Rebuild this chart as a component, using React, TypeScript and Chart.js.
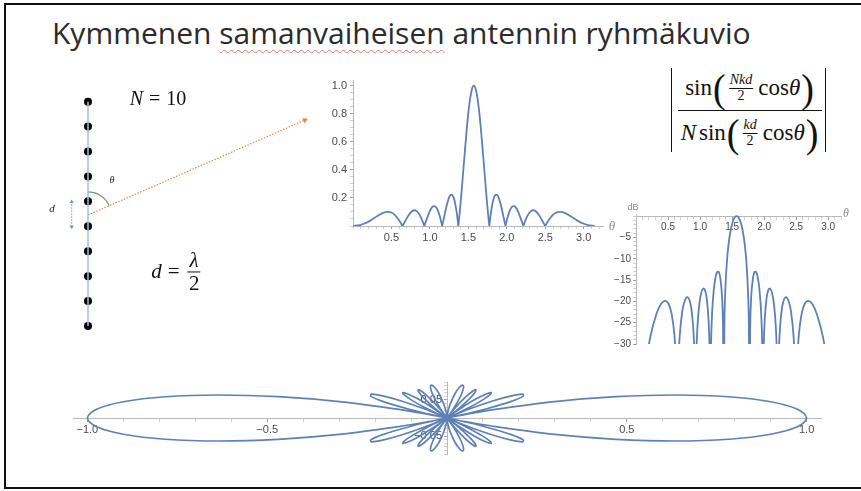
import React, { useEffect, useRef } from 'react';
import { Chart, registerables } from 'chart.js';

Chart.register(...registerables);

// ---------------- data ----------------
// θ (rad) sample positions along the pattern axis
const THETA = [
  0, 0.0895, 0.1415, 0.2241, 0.3176, 0.3898, 0.451, 0.5054, 0.5548, 0.6006, 0.6266, 0.6435, 0.66, 0.684, 0.7227,
  0.7598, 0.7954, 0.8298, 0.8632, 0.8957, 0.9148, 0.9273, 0.9397, 0.9582, 0.9884, 1.0181, 1.0472, 1.0758, 1.104,
  1.1318, 1.1484, 1.1593, 1.1702, 1.1864, 1.2132, 1.2398, 1.2661, 1.2922, 1.3181, 1.3439, 1.3592, 1.3694, 1.3797,
  1.3949, 1.4202, 1.4455, 1.4706, 1.4957, 1.5208, 1.5458, 1.5708,
  1.5958, 1.6208, 1.6459, 1.671, 1.6961, 1.7214, 1.7467, 1.7619, 1.7722, 1.7824, 1.7977, 1.8235, 1.8494, 1.8755,
  1.9018, 1.9284, 1.9552, 1.9714, 1.9823, 1.9932, 2.0098, 2.0376, 2.0658, 2.0944, 2.1235, 2.1532, 2.1834, 2.2019,
  2.2143, 2.2268, 2.2459, 2.2784, 2.3118, 2.3462, 2.3818, 2.4189, 2.4576, 2.4816, 2.4981, 2.515, 2.541, 2.5868,
  2.6362, 2.6906, 2.7518, 2.824, 2.9175, 3.0001, 3.0521, 3.1416,
];
// |array factor| at each θ
const ARRAY_FACTOR = [
  0, 0.0063, 0.0157, 0.0383, 0.0709, 0.093, 0.1013, 0.0942, 0.0727, 0.0398, 0.0164, 0, 0.0165, 0.0408, 0.0765,
  0.1017, 0.1122, 0.1059, 0.0829, 0.046, 0.0191, 0, 0.0196, 0.0487, 0.093, 0.1258, 0.1414, 0.1361, 0.1089, 0.0618,
  0.0261, 0, 0.0272, 0.0689, 0.1353, 0.1891, 0.2203, 0.2207, 0.1848, 0.1106, 0.0483, 0, 0.0532, 0.141, 0.3029,
  0.4736, 0.6393, 0.786, 0.9012, 0.9747, 1,
  0.9747, 0.9012, 0.786, 0.6393, 0.4736, 0.3029, 0.141, 0.0532, 0, 0.0483, 0.1106, 0.1848, 0.2207, 0.2203, 0.1891,
  0.1353, 0.0689, 0.0272, 0, 0.0261, 0.0618, 0.1089, 0.1361, 0.1414, 0.1258, 0.093, 0.0487, 0.0196, 0, 0.0191,
  0.046, 0.0829, 0.1059, 0.1122, 0.1017, 0.0765, 0.0408, 0.0165, 0, 0.0164, 0.0398, 0.0727, 0.0942, 0.1013, 0.093,
  0.0709, 0.0383, 0.0157, 0.0063, 0,
];
// same pattern in dB (values below the −30 dB floor fall outside the plot)
const ARRAY_FACTOR_DB = [
  -60, -44.0, -36.1, -28.3, -23.0, -20.6, -19.9, -20.5, -22.8, -28.0, -35.7, -60, -35.6, -27.8, -22.3, -19.9, -19.0,
  -19.5, -21.6, -26.7, -34.4, -60, -34.2, -26.2, -20.6, -18.0, -17.0, -17.3, -19.3, -24.2, -31.7, -60, -31.3, -23.2,
  -17.4, -14.5, -13.1, -13.1, -14.7, -19.1, -26.3, -60, -25.5, -17.0, -10.4, -6.5, -3.9, -2.1, -0.9, -0.2, 0,
  -0.2, -0.9, -2.1, -3.9, -6.5, -10.4, -17.0, -25.5, -60, -26.3, -19.1, -14.7, -13.1, -13.1, -14.5, -17.4, -23.2,
  -31.3, -60, -31.7, -24.2, -19.3, -17.3, -17.0, -18.0, -20.6, -26.2, -34.2, -60, -34.4, -26.7, -21.6, -19.5, -19.0,
  -19.9, -22.3, -27.8, -35.6, -60, -35.7, -28.0, -22.8, -20.5, -19.9, -20.6, -23.0, -28.3, -36.1, -44.0, -60,
];

const LIN_X_LABELS = [0.5, 1.0, 1.5, 2.0, 2.5, 3.0];
const LIN_Y_LABELS = [0.2, 0.4, 0.6, 0.8, 1.0];
const DB_X_LABELS = [0.5, 1.0, 1.5, 2.0, 2.5, 3.0];
const DB_Y_LABELS = [-5, -10, -15, -20, -25, -30];
const POLAR_X_LABELS = [-1.0, -0.5, 0.5, 1.0];
const POLAR_Y_LABELS = [-0.05, 0.05];

// antenna sketch, in units of the element spacing d
const ELEMENT_Y = [0, 1, 2, 3, 4, 5, 6, 7, 8, 9];
const ARRAY_AXIS_Y = [0, 9];
const RAY_X = [0, 8.7];
const RAY_Y = [4.45, 8.26];
const SPACING_MARK_X = [-0.654, -0.654];
const SPACING_MARK_Y = [3.98, 4.98];
const ANGLE_ARC_X = [0, 0.2407, 0.465, 0.6576, 0.8054, 0.8496];
const ANGLE_ARC_Y = [5.38, 5.348, 5.2554, 5.1076, 4.915, 4.8283];

// ---------------- styling helpers ----------------
const MMA_BLUE = '#5e81b5';
const AXIS_GREY = '#b8b8b8';
const LABEL_GREY = '#4a4a4a';
const SANS = '"Liberation Sans", Arial, sans-serif';
const SERIF = '"Liberation Serif", "Times New Roman", serif';

const steps = (a: number, b: number, s: number) => {
  const out: number[] = [];
  const n = Math.round((b - a) / s);
  for (let i = 0; i <= n; i++) out.push(+(a + i * s).toFixed(6));
  return out;
};
const minorTicks = (min: number, max: number, step: number) =>
  steps(Math.ceil(min / step - 1e-9) * step, Math.floor(max / step + 1e-9) * step, step);
const isIn = (list: number[], v: number) => list.some((t) => Math.abs(t - v) < 1e-6);
const fmt = (v: number, d: number) => (v < 0 ? '\u2212' : '') + Math.abs(v).toFixed(d);

function mmaAxis(o: any) {
  return {
    type: 'linear',
    position: o.position,
    min: o.min,
    max: o.max,
    afterBuildTicks: (s: any) => {
      s.ticks = minorTicks(o.min, o.max, o.step).map((value) => ({ value }));
    },
    afterFit: (s: any) => {
      if (o.size == null) return;
      if (s.isHorizontal()) s.height = o.size;
      else s.width = o.size;
    },
    ticks: {
      autoSkip: false,
      maxRotation: 0,
      minRotation: 0,
      padding: o.padding ?? 3,
      color: LABEL_GREY,
      font: { family: SANS, size: o.fontSize ?? 11 },
      callback: (v: number) => (isIn(o.majors, v) ? fmt(v, o.digits) : ''),
    },
    grid: {
      drawOnChartArea: false,
      drawTicks: true,
      tickLength: 3,
      tickWidth: 1,
      tickColor: (ctx: any) => (ctx.tick && isIn(o.majors, ctx.tick.value) ? '#9c9c9c' : '#d0d0d0'),
    },
    border: { display: true, color: AXIS_GREY, width: 1 },
  };
}

function traced(xs: number[], ys: number[], amp: number[]) {
  const pts: { x: number; y: number }[] = [];
  xs.forEach((x, i) => {
    pts.push({ x, y: ys[i] });
    if (amp[i] === 0) pts.push({ x, y: ys[i] }); // doubled point keeps the null a sharp cusp
  });
  return pts;
}

const baseOptions = {
  responsive: false,
  animation: false,
  devicePixelRatio: 1,
  events: [],
  plugins: { legend: { display: false }, tooltip: { enabled: false }, title: { display: false } },
};

const patternLine = (data: any[]) => ({
  data,
  showLine: true,
  borderColor: MMA_BLUE,
  borderWidth: 1.8,
  pointRadius: 0,
  tension: 0.35,
  fill: false,
});

function linearConfig() {
  return {
    type: 'scatter',
    data: { datasets: [patternLine(traced(THETA, ARRAY_FACTOR, ARRAY_FACTOR))] },
    options: {
      ...baseOptions,
      layout: { autoPadding: false, padding: { left: 5, right: 10, top: 10, bottom: 5 } },
      scales: {
        x: mmaAxis({ position: 'bottom', min: 0, max: 3.25, step: 0.1, majors: LIN_X_LABELS, digits: 1, size: 20, padding: 2 }),
        y: mmaAxis({ position: 'left', min: 0, max: 1.04, step: 0.05, majors: LIN_Y_LABELS, digits: 1, size: 30, padding: 3 }),
      },
    },
  };
}

function dbConfig() {
  return {
    type: 'scatter',
    data: { datasets: [patternLine(traced(THETA, ARRAY_FACTOR_DB, ARRAY_FACTOR))] },
    options: {
      ...baseOptions,
      layout: { autoPadding: false, padding: { left: 5, right: 10, top: 10, bottom: 10 } },
      scales: {
        x: mmaAxis({ position: { y: 0 }, min: 0, max: 3.2, step: 0.1, majors: DB_X_LABELS, digits: 1, fontSize: 10, padding: 2 }),
        y: mmaAxis({ position: 'left', min: -30, max: 0.5, step: 1, majors: DB_Y_LABELS, digits: 0, size: 30, fontSize: 10, padding: 2 }),
      },
    },
  };
}

function polarConfig() {
  const px = THETA.map((t, i) => ARRAY_FACTOR[i] * Math.sin(t));
  const py = THETA.map((t, i) => ARRAY_FACTOR[i] * Math.cos(t));
  // second half of the turn (θ from π to 2π) mirrors the first across the vertical axis
  const xs = px.concat(px.slice().reverse().map((v) => -v));
  const ys = py.concat(py.slice().reverse());
  const amp = ARRAY_FACTOR.concat(ARRAY_FACTOR.slice().reverse());
  return {
    type: 'scatter',
    data: { datasets: [{ ...patternLine(traced(xs, ys, amp)), borderWidth: 1.7 }] },
    options: {
      ...baseOptions,
      layout: { autoPadding: false, padding: 20 },
      scales: {
        x: mmaAxis({ position: 'center', min: -1.04, max: 1.04, step: 0.1, majors: POLAR_X_LABELS, digits: 1, padding: 2 }),
        y: mmaAxis({ position: 'center', min: -0.1, max: 0.1, step: 0.01, majors: POLAR_Y_LABELS, digits: 2, padding: 2 }),
      },
    },
  };
}

function sketchConfig() {
  const pts = (xs: number[], ys: number[]) => ys.map((y, i) => ({ x: xs[i], y }));
  return {
    type: 'scatter',
    data: {
      datasets: [
        {
          data: pts([0, 0], ARRAY_AXIS_Y),
          showLine: true,
          borderColor: '#9dc3e6',
          borderWidth: 1.5,
          pointRadius: 0,
        },
        {
          data: pts(RAY_X, RAY_Y),
          showLine: true,
          borderColor: '#ed7d31',
          borderWidth: 1.1,
          borderDash: [1.5, 1.5],
          pointStyle: 'triangle',
          pointRadius: [0, 3.2],
          pointRotation: [0, 66.4],
          pointBackgroundColor: '#ed7d31',
          pointBorderWidth: 0,
        },
        {
          data: pts(SPACING_MARK_X, SPACING_MARK_Y),
          showLine: true,
          borderColor: '#5b9bd5',
          borderWidth: 1,
          borderDash: [1.5, 1.5],
          pointStyle: 'triangle',
          pointRadius: [2.4, 2.4],
          pointRotation: [180, 0],
          pointBackgroundColor: '#5b9bd5',
          pointBorderWidth: 0,
        },
        {
          data: pts(ANGLE_ARC_X, ANGLE_ARC_Y),
          showLine: true,
          borderColor: '#6f9270',
          borderWidth: 1.2,
          tension: 0.4,
          pointRadius: 0,
        },
        {
          data: ELEMENT_Y.map((y) => ({ x: 0, y })),
          showLine: false,
          pointRadius: 4,
          pointBackgroundColor: '#000',
          pointBorderWidth: 0,
        },
      ],
    },
    options: {
      ...baseOptions,
      layout: { autoPadding: false, padding: 0 },
      scales: {
        x: { type: 'linear', display: false, min: -1.6045, max: 9.2258 },
        y: { type: 'linear', display: false, min: -0.5616, max: 9.4665 },
      },
    },
  };
}

function ChartBox({ left, top, width, height, make }: any) {
  const ref = useRef<HTMLCanvasElement>(null);
  useEffect(() => {
    const chart = new Chart(ref.current as HTMLCanvasElement, make());
    return () => chart.destroy();
  }, []);
  return (
    <canvas
      ref={ref}
      width={width}
      height={height}
      style={{ position: 'absolute', left, top, width, height }}
    />
  );
}

const At = ({ x, y, style, children }: any) => (
  <div
    style={{
      position: 'absolute',
      left: x,
      top: y,
      transform: 'translate(-50%, -50%)',
      whiteSpace: 'nowrap',
      lineHeight: 1,
      ...style,
    }}
  >
    {children}
  </div>
);

const Frac = ({ top, bottom, size, italicTop = true, barPad = 1 }: any) => (
  <span
    style={{
      display: 'inline-flex',
      flexDirection: 'column',
      alignItems: 'center',
      fontSize: size,
      lineHeight: 1.05,
      margin: '0 2px',
    }}
  >
    <span style={{ borderBottom: '1px solid #111', padding: `0 ${barPad}px`, fontStyle: italicTop ? 'italic' : 'normal' }}>
      {top}
    </span>
    <span>{bottom}</span>
  </span>
);

const Paren = ({ ch }: any) => (
  <span
    style={{
      display: 'inline-block',
      fontSize: 38,
      lineHeight: '38px',
      transform: 'scaleY(1.08)',
      fontWeight: 300,
      margin: '0 1px',
    }}
  >
    {ch}
  </span>
);

export default function App() {
  const mathRow = { font: `23px ${SERIF}`, color: '#111', display: 'flex', alignItems: 'center' };
  return (
    <div
      style={{
        position: 'fixed',
        left: 0,
        top: 0,
        width: 861,
        height: 491,
        background: '#fff',
        overflow: 'hidden',
      }}
    >
      <div
        style={{
          position: 'absolute',
          left: 4,
          top: 3,
          width: 880,
          height: 482,
          borderLeft: '2px solid #111',
          borderTop: '2px solid #111',
          borderBottom: '2px solid #111',
        }}
      />
      <div
        style={{
          position: 'absolute',
          left: 52,
          top: 13,
          font: '30px "Open Sans", sans-serif',
          lineHeight: '40px',
          color: '#2b2b2b',
          whiteSpace: 'nowrap',
        }}
      >
        Kymmenen{' '}
        <span
          style={{
            textDecorationLine: 'underline',
            textDecorationStyle: 'wavy',
            textDecorationColor: '#e8776f',
            textDecorationThickness: '1px',
            textUnderlineOffset: '5px',
          }}
        >
          samanvaiheisen
        </span>{' '}
        antennin ryhmäkuvio
      </div>

      <ChartBox left={48} top={90} width={270} height={250} make={sketchConfig} />
      <ChartBox left={318} top={70} width={295} height={181} make={linearConfig} />
      <ChartBox left={601} top={204} width={250} height={150} make={dbConfig} />
      <ChartBox left={53} top={362} width={788} height={112} make={polarConfig} />

      {/* sketch annotations */}
      <At x={158} y={98} style={{ font: `20px ${SERIF}`, color: '#111' }}>
        <i>N</i>
        <span style={{ margin: '0 6px' }}>=</span>10
      </At>
      <At x={177} y={272} style={{ font: `21px ${SERIF}`, color: '#111', display: 'flex', alignItems: 'center' }}>
        <i>d</i>
        <span style={{ margin: '0 6px' }}>=</span>
        <Frac top="λ" bottom="2" size={21} barPad={2} />
      </At>
      <At x={112} y={179} style={{ font: `italic 10px ${SERIF}`, color: '#222' }}>θ</At>
      <At x={52} y={208} style={{ font: `italic 11px ${SERIF}`, color: '#222' }}>d</At>

      {/* axis labels */}
      <At x={612} y={226} style={{ font: `italic 13px ${SERIF}`, color: '#8a8a8a' }}>θ</At>
      <At x={846} y={213} style={{ font: `italic 12px ${SERIF}`, color: '#8a8a8a' }}>θ</At>
      <At x={633} y={207} style={{ font: `9px ${SANS}`, color: '#8a8a8a' }}>dB</At>

      {/* array factor formula */}
      <div style={{ position: 'absolute', left: 671, top: 68, width: 1.4, height: 84, background: '#111' }} />
      <div style={{ position: 'absolute', left: 824.5, top: 68, width: 1.4, height: 84, background: '#111' }} />
      <div style={{ position: 'absolute', left: 678, top: 109.5, width: 144, height: 1.2, background: '#111' }} />
      <At x={750} y={88} style={mathRow}>
        <span>sin</span>
        <Paren ch="(" />
        <Frac top="Nkd" bottom="2" size={14} />
        <span style={{ marginLeft: 3 }}>cos</span>
        <i>θ</i>
        <Paren ch=")" />
      </At>
      <At x={750} y={133} style={mathRow}>
        <i>N</i>
        <span style={{ marginLeft: 3 }}>sin</span>
        <Paren ch="(" />
        <Frac top="kd" bottom="2" size={14} />
        <span style={{ marginLeft: 3 }}>cos</span>
        <i>θ</i>
        <Paren ch=")" />
      </At>
    </div>
  );
}
